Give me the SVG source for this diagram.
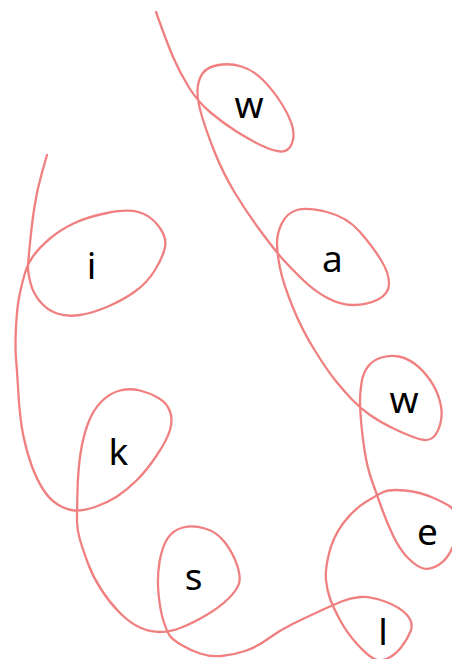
<svg xmlns="http://www.w3.org/2000/svg" width="452" height="659" viewBox="0 0 452 659">
<style>
.curve{fill:none;stroke:#f08080;stroke-width:2.3;stroke-linecap:round;stroke-linejoin:round}
.lbl{font-family:"Noto Sans","DejaVu Sans",sans-serif;font-size:37px;fill:#000;text-anchor:middle}
</style>
<rect width="452" height="659" fill="#fff"/>
<g id="connectors">
<path class="curve" d="M156,12 Q167,43 173.5,58 Q180,73 189,87.5 Q198,102 210.5,112.5 Q223,123 236.5,131.5 Q250,140 261.5,145.5 Q273,151 280.5,151.5 Q288,152 291.5,144.5 Q295,137 292.5,127 Q290,117 281.5,103.5 Q273,90 263,80 Q253,70 241.5,66.5 Q230,63 218.5,65 Q207,67 202.5,73.5 Q198,80 197.5,90 Q197,100 202,116.5 Q207,133 215,153 Q223,173 235,193 Q247,213 262,233 Q277,253 283.5,260 Q290,267 301.5,278.5 Q313,290 326.5,297.5 Q340,305 353.5,305 Q367,305 378,299.5 Q389,294 389,283.5 Q389,273 381,260 Q373,247 360,232 Q347,217 327,212 Q307,207 297,210 Q287,213 282,223 Q277,233 277,243 Q277,253 280,268 Q283,283 292.5,306.5 Q302,330 314.5,350 Q327,370 335,380 Q343,390 351.5,399 Q360,408 370,415 Q380,422 393.5,428.5 Q407,435 417.5,438.5 Q428,442 433,437.5 Q438,433 440.5,423 Q443,413 440,401.5 Q437,390 430,380 Q423,370 415,364 Q407,358 398.5,356.5 Q390,355 381.5,357.5 Q373,360 368,366.5 Q363,373 361.5,383 Q360,393 360,400.5 Q360,408 361,420.5 Q362,433 364.5,450 Q367,467 372,481 Q377,495 382,509 Q387,523 393.5,536.5 Q400,550 408.5,558.5 Q417,567 423.5,568.5 Q430,570 438.5,565 Q447,560 452.5,547.5 Q458,535 456.5,522.5 Q455,510 450,506.5 Q445,503 432.5,497.5 Q420,492 405,490.5 Q390,489 383.5,492 Q377,495 365,502.5 Q353,510 343,523.5 Q333,537 329,553.5 Q325,570 326,580 Q327,590 330,598.5 Q333,607 340,620 Q347,633 357,644 Q367,655 373.5,658.5 Q380,662 387.5,658.5 Q395,655 401,647.5 Q407,640 410.5,631.5 Q414,623 407,615 Q400,607 385,601.5 Q370,596 360,597 Q350,598 341.5,601.5 Q333,605 320,611 Q307,617 293.5,623.5 Q280,630 268.5,638.5 Q257,647 245,651 Q233,655 221.5,656 Q210,657 200,653.5 Q190,650 181.5,645 Q173,640 170,636 Q167,632 163.5,621 Q160,610 158.5,593.5 Q157,577 159.5,562 Q162,547 167.5,538.5 Q173,530 183,527.5 Q193,525 205,528.5 Q217,532 225,542.5 Q233,553 237,565 Q241,577 239,583.5 Q237,590 228.5,598.5 Q220,607 206.5,615 Q193,623 181.5,627.5 Q170,632 160,632 Q150,632 140,627.5 Q130,623 120,613 Q110,603 101.5,590 Q93,577 88,563.5 Q83,550 80,540 Q77,530 77,521 Q77,512 77.5,491 Q78,470 80.5,453.5 Q83,437 88,423.5 Q93,410 101.5,401.5 Q110,393 120,390.5 Q130,388 140,390.5 Q150,393 158.5,398 Q167,403 170,411.5 Q173,420 170,430 Q167,440 157,455 Q147,470 137,480 Q127,490 117,496.5 Q107,503 95,507 Q83,511 75,510.5 Q67,510 58.5,505 Q50,500 43.5,490 Q37,480 32,466.5 Q27,453 23.5,436.5 Q20,420 18.5,395 Q17,370 16,358.5 Q15,347 16,327 Q17,307 19.5,295 Q22,283 25,273 Q28,263 34,255 Q40,247 50,238.5 Q60,230 73.5,223.5 Q87,217 107,213 Q127,209 138.5,212 Q150,215 158.5,226 Q167,237 165,247 Q163,257 155,270 Q147,283 135,291.5 Q123,300 108,306.5 Q93,313 80,315 Q67,317 57,313.5 Q47,310 40,301.5 Q33,293 30.5,283 Q28,273 28,268 Q28,263 30,243 Q32,223 34.5,206.5 Q37,190 42,172.5 L47,155"/>
</g>
<g id="node-w1"><text class="lbl" x="249" y="118">w</text></g>
<g id="node-a"><text class="lbl" x="332.5" y="272">a</text></g>
<g id="node-w2"><text class="lbl" x="404" y="413">w</text></g>
<g id="node-e"><text class="lbl" x="427.5" y="545">e</text></g>
<g id="node-l"><text class="lbl" x="383" y="645">l</text></g>
<g id="node-s"><text class="lbl" x="193.5" y="590">s</text></g>
<g id="node-k"><text class="lbl" x="118.5" y="465">k</text></g>
<g id="node-i"><text class="lbl" x="91.5" y="279">i</text></g>
</svg>
